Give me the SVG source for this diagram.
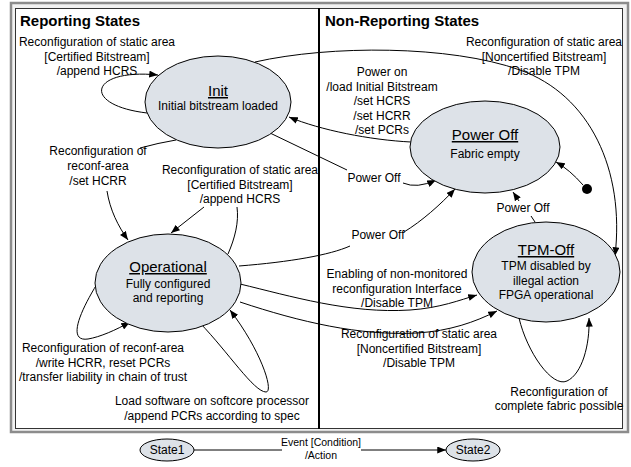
<svg xmlns="http://www.w3.org/2000/svg" width="631" height="467" viewBox="0 0 631 467">
<style>
text{font-family:"Liberation Sans",Arial,sans-serif;font-size:12px;fill:#000;text-anchor:middle}
.h{font-size:15px;font-weight:bold;text-anchor:start}
.n{font-size:15px;text-decoration:underline}
.sm{font-size:10.5px}
.st{fill:#dde2e8;stroke:#000;stroke-width:1}
.c{fill:none;stroke:#000;stroke-width:1}
.a{marker-end:url(#arr)}
</style>
<defs>
<marker id="arr" viewBox="0 0 10 8" refX="10" refY="4" markerWidth="9" markerHeight="7" orient="auto" markerUnits="userSpaceOnUse">
<path d="M0,0 L10,4 L0,8 z" fill="#000"/>
</marker>
</defs>
<g id="frame">
<rect x="11" y="3" width="617" height="429" fill="#f2f2f2" stroke="#8c8c8c" stroke-width="2.5"/>
<rect x="15.5" y="8.5" width="607" height="420" fill="#fff" stroke="#333" stroke-width="1"/>
<line x1="319" y1="8" x2="319" y2="429" stroke="#000" stroke-width="2"/>
<text class="h" x="20" y="26">Reporting States</text>
<text class="h" x="325" y="26">Non-Reporting States</text>
</g>
<g id="connectors">
<path class="c a" d="M147,113 C80,105 90,68 158,75"/>
<text x="97" y="46">Reconfiguration of static area</text>
<text x="97" y="60.5">[Certified Bitstream]</text>
<text x="97" y="75">/append HCRS</text>
<path class="c a" d="M255,62 C330,45 450,45 520,70 C590,95 625,170 615,256"/>
<text x="544" y="46">Reconfiguration of static area</text>
<text x="544" y="60.5">[Noncertified Bitstream]</text>
<text x="544" y="75">/Disable TPM</text>
<path class="c a" d="M411,142 C370,140 320,130 289,117"/>
<text x="382" y="76">Power on</text>
<text x="382" y="90.5">/load Initial Bitstream</text>
<text x="382" y="105">/set HCRS</text>
<text x="382" y="119.5">/set HCRR</text>
<text x="382" y="134">/set PCRs</text>
<path class="c" d="M270,133 L347,170"/>
<text x="374" y="182">Power Off</text>
<path class="c a" d="M403,183 Q417,189 436,180"/>
<path class="c" d="M239,266 C290,262 330,255 350,246"/>
<text x="378" y="239">Power Off</text>
<path class="c a" d="M404,232 C422,221 440,205 455,189"/>
<path class="c" d="M535,222 L531,216"/>
<text x="523" y="212">Power Off</text>
<path class="c a" d="M519,201 L513,192"/>
<circle cx="587" cy="189" r="5" fill="#000"/>
<path class="c a" d="M583,185 Q570,170 556,162"/>
<path class="c" d="M176,140 Q158,143 140,148"/>
<text x="98" y="155">Reconfiguration of</text>
<text x="98" y="170">reconf-area</text>
<text x="98" y="185">/set HCRR</text>
<path class="c a" d="M107,191 C110,210 118,226 128,240"/>
<path class="c" d="M228,254 C235,238 239,222 237,207"/>
<text x="240" y="174">Reconfiguration of static area</text>
<text x="240" y="188.5">[Certified Bitstream]</text>
<text x="240" y="203">/append HCRS</text>
<path class="c a" d="M204,207 L171,233"/>
<path class="c a" d="M97,284 C78,315 68,342 88,339 C100,337 116,330 130,322"/>
<text x="103" y="352">Reconfiguration of reconf-area</text>
<text x="103" y="366.5">/write HCRR, reset PCRs</text>
<text x="103" y="381">/transfer liability in chain of trust</text>
<path class="c a" d="M200,323 C228,352 254,392 266,392 C274,392 262,352 230,310"/>
<text x="212" y="405">Load software on softcore processor</text>
<text x="212" y="419.5">/append PCRs according to spec</text>
<path class="c a" d="M240,284 C290,296 350,314 410,310 C440,308 460,300 477,295"/>
<text x="397" y="278">Enabling of non-monitored</text>
<text x="397" y="292.5">reconfiguration Interface</text>
<text x="397" y="307">/Disable TPM</text>
<path class="c a" d="M240,302 C300,322 360,336 417,333 C450,331 475,322 497,311"/>
<text x="419" y="338">Reconfiguration of static area</text>
<text x="419" y="352.5">[Noncertified Bitstream]</text>
<text x="419" y="367">/Disable TPM</text>
<path class="c a" d="M519,318 C527,352 552,388 567,381 C582,374 590,345 589,318"/>
<text x="559" y="395.5">Reconfiguration of</text>
<text x="559" y="410">complete fabric possible</text>
<path class="c" d="M194,450 L282,450"/>
<text class="sm" x="321" y="446">Event [Condition]</text>
<text class="sm" x="321" y="459">/Action</text>
<path class="c a" d="M361,450 L446,450"/>
</g>
<g id="init">
<ellipse class="st" cx="218" cy="102" rx="73" ry="46"/>
<text class="n" x="218" y="96">Init</text>
<text x="218" y="110">Initial bitstream loaded</text>
</g>
<g id="poweroff">
<ellipse class="st" cx="485" cy="147" rx="75" ry="46"/>
<text class="n" x="485" y="140">Power Off</text>
<text x="485" y="157.5">Fabric empty</text>
</g>
<g id="operational">
<ellipse class="st" cx="168" cy="283" rx="73" ry="49"/>
<text class="n" x="168" y="272">Operational</text>
<text x="168" y="288">Fully configured</text>
<text x="168" y="302">and reporting</text>
</g>
<g id="tpmoff">
<ellipse class="st" cx="546" cy="272" rx="74" ry="50"/>
<text class="n" x="546" y="255">TPM-Off</text>
<text x="546" y="270">TPM disabled by</text>
<text x="546" y="284.5">illegal action</text>
<text x="546" y="299">FPGA operational</text>
</g>
<g id="state1">
<ellipse class="st" cx="167" cy="450" rx="27" ry="11"/>
<text x="167" y="454">State1</text>
</g>
<g id="state2">
<ellipse class="st" cx="473" cy="450" rx="27" ry="11"/>
<text x="473" y="454">State2</text>
</g>
</svg>
